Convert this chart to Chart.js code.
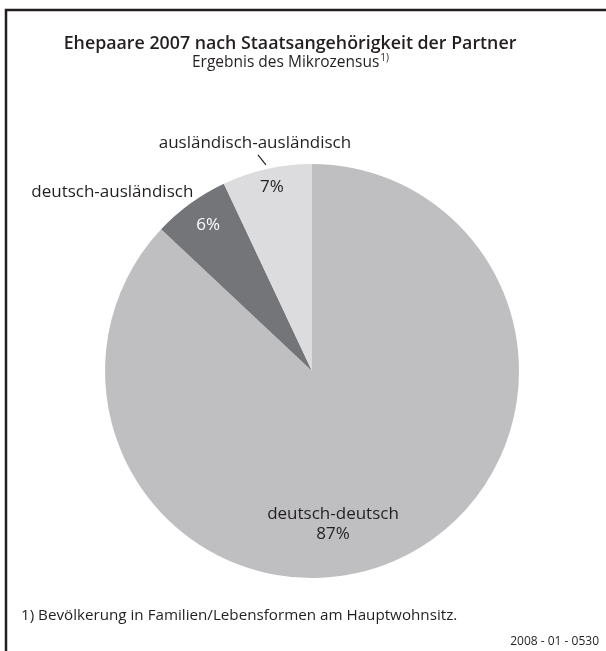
<!DOCTYPE html>
<html>
<head>
<meta charset="utf-8">
<script src="https://cdn.jsdelivr.net/npm/chart.js@4/dist/chart.umd.min.js"></script>
<style>
  html, body { margin: 0; padding: 0; background: #fff; }
  #wrap { position: relative; width: 606px; height: 651px; }
</style>
</head>
<body>
<div id="wrap"><canvas id="pieChart" width="606" height="651"></canvas></div>
<script>
// Daten
const kategorien = ['deutsch-deutsch', 'deutsch-ausländisch', 'ausländisch-ausländisch'];
const anteile = [87, 6, 7];
const farben = ['#bfbfc1', '#747579', '#dcdcde'];

const titel = 'Ehepaare 2007 nach Staatsangehörigkeit der Partner';
const untertitel = 'Ergebnis des Mikrozensus';
const fussnote = '1) Bevölkerung in Familien/Lebensformen am Hauptwohnsitz.';
const kennung = '2008 - 01 - 0530';

const SCHRIFT = '"Open Sans", "Noto Sans", sans-serif';
const TEXTFARBE = '#231f20';
const MITTE_X = 290;

// Rahmen, Titel, Beschriftungen und Fußnote
const beschriftung = {
    id: 'beschriftung',
    afterDraw(chart) {
        const ctx = chart.ctx;
        const arcs = chart.getDatasetMeta(0).data;
        ctx.save();

        // Rahmen oben und links
        ctx.strokeStyle = '#231f20';
        ctx.lineWidth = 2.5;
        ctx.beginPath();
        ctx.moveTo(6, 651);
        ctx.lineTo(6, 10);
        ctx.lineTo(606, 10);
        ctx.stroke();

        ctx.fillStyle = TEXTFARBE;
        ctx.textBaseline = 'alphabetic';
        ctx.textAlign = 'center';
        ctx.font = '600 17.8px ' + SCHRIFT;
        ctx.fillText(titel, MITTE_X, 49);

        ctx.font = '15.5px ' + SCHRIFT;
        const uw = ctx.measureText(untertitel).width;
        ctx.font = '10px ' + SCHRIFT;
        const hw = ctx.measureText('1)').width;
        const ux = MITTE_X - (uw + hw) / 2;
        ctx.textAlign = 'left';
        ctx.font = '15.5px ' + SCHRIFT;
        ctx.fillText(untertitel, ux, 67);
        ctx.font = '10px ' + SCHRIFT;
        ctx.fillText('1)', ux + uw + 1, 61);

        // Punkt auf der Winkelhalbierenden eines Segments
        const punkt = (arc, faktor) => {
            const p = arc.getProps(['x', 'y', 'startAngle', 'endAngle', 'outerRadius'], true);
            const w = (p.startAngle + p.endAngle) / 2;
            return { x: p.x + Math.cos(w) * p.outerRadius * faktor, y: p.y + Math.sin(w) * p.outerRadius * faktor };
        };

        ctx.font = '17px ' + SCHRIFT;
        ctx.textAlign = 'center';
        ctx.textBaseline = 'middle';

        // deutsch-deutsch (innen, unterhalb der Mitte)
        const m = arcs[0].getProps(['x', 'y', 'outerRadius'], true);
        ctx.fillStyle = TEXTFARBE;
        ctx.fillText(kategorien[0], m.x + 21, m.y + m.outerRadius * 0.69);
        ctx.fillText(anteile[0] + '%', m.x + 21, m.y + m.outerRadius * 0.79);

        // deutsch-ausländisch
        let p = punkt(arcs[1], 0.87);
        ctx.fillStyle = '#ffffff';
        ctx.fillText(anteile[1] + '%', p.x + 2, p.y);
        p = punkt(arcs[1], 1.0);
        ctx.fillStyle = TEXTFARBE;
        ctx.textAlign = 'right';
        ctx.fillText(kategorien[1], p.x + 3, p.y - 11);

        // ausländisch-ausländisch mit Hinweislinie
        p = punkt(arcs[2], 0.91);
        ctx.textAlign = 'center';
        ctx.fillText(anteile[2] + '%', p.x + 1, p.y);
        const a = punkt(arcs[2], 1.02);
        ctx.strokeStyle = TEXTFARBE;
        ctx.lineWidth = 1.2;
        ctx.beginPath();
        ctx.moveTo(a.x, a.y);
        ctx.lineTo(a.x - 8, a.y - 10);
        ctx.stroke();
        ctx.fillText(kategorien[2], a.x - 11, a.y - 22);

        // Fußnote und Kennung
        ctx.font = '15.2px ' + SCHRIFT;
        ctx.textAlign = 'left';
        ctx.textBaseline = 'alphabetic';
        ctx.fillText(fussnote, 21, 620);
        ctx.font = '12px ' + SCHRIFT;
        ctx.textAlign = 'right';
        ctx.fillText(kennung, 599, 645);

        ctx.restore();
    }
};

new Chart(document.getElementById('pieChart'), {
    type: 'pie',
    data: {
        labels: kategorien,
        datasets: [{
            data: anteile,
            backgroundColor: farben,
            borderWidth: 0,
        }],
    },
    options: {
        responsive: false,
        animation: false,
        layout: {
            padding: { left: 105, right: 87, top: 164, bottom: 73 }
        },
        plugins: {
            legend: { display: false },
            tooltip: { enabled: false },
            title: { display: false },
        },
    },
    plugins: [beschriftung],
});
</script>
</body>
</html>
